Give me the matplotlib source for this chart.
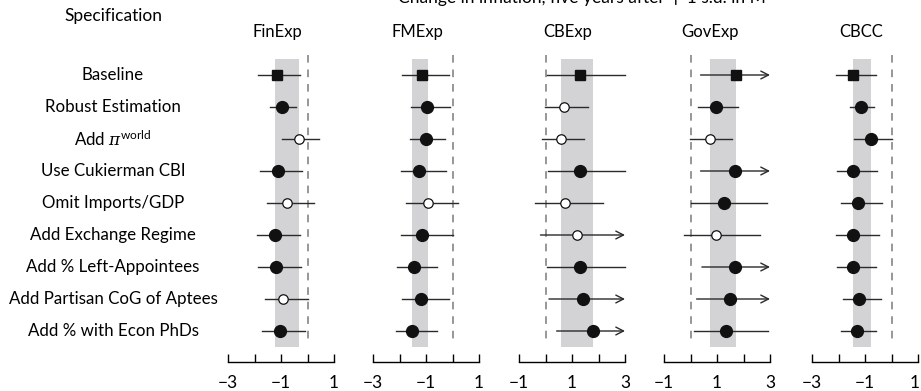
import numpy as np
import matplotlib
matplotlib.use("Agg")
import matplotlib.pyplot as plt
from matplotlib.transforms import ScaledTranslation

plt.rcParams["font.family"] = ["Lato", "DejaVu Sans"]
plt.rcParams["mathtext.fontset"] = "custom"
plt.rcParams["mathtext.rm"] = "Lato"
plt.rcParams["mathtext.it"] = "DejaVu Serif:italic"

# Specifications (rows, top to bottom)
specs = ["Baseline", "Robust Estimation", r"Add $\pi^{\mathrm{world}}$",
         "Use Cukierman CBI", "Omit Imports/GDP", "Add Exchange Regime",
         "Add % Left-Appointees", "Add Partisan CoG of Aptees",
         "Add % with Econ PhDs"]

panels = ["FinExp", "FMExp", "CBExp", "GovExp", "CBCC"]
panel_xlim = [(-3, 1), (-3, 1), (-1, 3), (-1, 3), (-3, 1)]
panel_labels = [[-3, -1, 1], [-3, -1, 1], [-1, 1, 3], [-1, 1, 3], [-3, -1, 1]]

INF = np.inf  # interval continues past the right end of the axis

finexp_est = [-1.16, -0.96, -0.33, -1.13, -0.77, -1.22, -1.17, -0.91, -1.02]
finexp_lo = [-1.85, -1.40, -0.97, -1.81, -1.52, -1.91, -1.85, -1.62, -1.72]
finexp_hi = [-0.28, -0.45, 0.43, -0.20, 0.23, -0.30, -0.26, 0.01, -0.11]
finexp_open = [0, 0, 1, 0, 1, 0, 0, 1, 0]

fmexp_est = [-1.16, -0.95, -1.01, -1.25, -0.93, -1.14, -1.46, -1.17, -1.51]
fmexp_lo = [-1.89, -1.58, -1.62, -1.96, -1.77, -1.93, -2.10, -1.91, -2.12]
fmexp_hi = [-0.12, -0.09, -0.30, -0.23, 0.20, 0.00, -0.57, -0.12, -0.60]
fmexp_open = [0, 0, 0, 0, 1, 0, 0, 0, 0]

cbexp_est = [1.31, 0.71, 0.58, 1.31, 0.74, 1.19, 1.31, 1.43, 1.78]
cbexp_lo = [0.06, -0.03, -0.15, 0.10, -0.38, -0.19, 0.06, 0.13, 0.42]
cbexp_hi = [2.99, 1.60, 1.45, 2.99, 2.18, INF, 2.99, INF, INF]
cbexp_open = [0, 1, 1, 0, 1, 1, 0, 0, 0]

govexp_est = [1.70, 0.97, 0.72, 1.69, 1.25, 0.97, 1.69, 1.50, 1.35]
govexp_lo = [0.38, 0.28, -0.01, 0.38, 0.03, -0.25, 0.43, 0.23, 0.15]
govexp_hi = [INF, 1.81, 1.56, INF, 2.88, 2.63, INF, INF, 2.92]
govexp_open = [0, 0, 1, 0, 0, 1, 0, 0, 0]

cbcc_est = [-1.45, -1.14, -0.76, -1.44, -1.25, -1.44, -1.44, -1.22, -1.30]
cbcc_lo = [-2.09, -1.56, -1.41, -2.06, -1.90, -2.09, -2.06, -1.83, -1.91]
cbcc_hi = [-0.57, -0.65, 0.02, -0.53, -0.34, -0.49, -0.58, -0.38, -0.57]
cbcc_open = [0, 0, 0, 0, 0, 0, 0, 0, 0]

est = [finexp_est, fmexp_est, cbexp_est, govexp_est, cbcc_est]
lo = [finexp_lo, fmexp_lo, cbexp_lo, govexp_lo, cbcc_lo]
hi = [finexp_hi, fmexp_hi, cbexp_hi, govexp_hi, cbcc_hi]
hollow = [finexp_open, fmexp_open, cbexp_open, govexp_open, cbcc_open]

# ---- layout (pixels) ----
W, H = 921, 391
fig = plt.figure(figsize=(W / 100, H / 100), dpi=100)

ax_left_px = [228, 373, 519, 664, 812]
ax_width_px = 106
ax_top_px, ax_bot_px = 47, 362
title_x_px = [277, 417, 568, 710, 861]
row_pitch_px = 32
first_row_px = 75

n = len(specs)
ax_h_units = (ax_bot_px - ax_top_px) / row_pitch_px
y_top = -(first_row_px - ax_top_px) / row_pitch_px
y_bot = y_top + ax_h_units
rows = np.arange(n)

band_col = "#d3d3d5"
line_col = "#2a2a2a"

for k, name in enumerate(panels):
    ax = fig.add_axes([ax_left_px[k] / W, (H - ax_bot_px) / H,
                       ax_width_px / W, (ax_bot_px - ax_top_px) / H])
    x0, x1 = panel_xlim[k]
    ax.set_xlim(x0, x1)
    ax.set_ylim(y_bot, y_top)

    e = np.array(est[k]); l = np.array(lo[k]); h = np.array(hi[k])
    # grey band: range spanned by the point estimates
    ax.fill_betweenx([-0.5, 8.5], e.min(), e.max(), color=band_col, lw=0, zorder=0)
    # reference line at zero
    ax.plot([0, 0], [-0.62, 8.45], color="#7a7a7a", lw=1.1,
            dashes=(5, 4.5), zorder=1, clip_on=False)

    for i in rows:
        if np.isinf(h[i]):
            ax.annotate("", xy=(x1, i), xytext=(l[i], i),
                        arrowprops=dict(arrowstyle="->,head_length=0.55,head_width=0.28",
                                        color=line_col, lw=1.0,
                                        shrinkA=0, shrinkB=0), zorder=2)
        else:
            ax.plot([l[i], h[i]], [i, i], color=line_col, lw=1.0, zorder=2,
                    clip_on=False)
        if i == 0:
            ax.plot(e[i], i, marker="s", ms=7, color="#111111", zorder=3,
                    clip_on=False)
        elif hollow[k][i]:
            ax.plot(e[i], i, marker="o", ms=6.8, mfc="white", mec="#111111",
                    mew=0.9, zorder=3, clip_on=False)
        else:
            ax.plot(e[i], i, marker="o", ms=8.5, color="#111111", zorder=3,
                    clip_on=False)

    for s in ["top", "left", "right"]:
        ax.spines[s].set_visible(False)
    ax.spines["bottom"].set_linewidth(1.0)
    ax.set_yticks([])
    ticks = np.arange(x0, x1 + 1)
    ax.set_xticks(ticks)
    labs = [("\u2212%d" % abs(t) if t < 0 else "%d" % t) if t in panel_labels[k] else ""
            for t in ticks]
    ax.set_xticklabels(labs, fontsize=12.5)
    ax.tick_params(axis="x", direction="in", length=6, width=1.0, pad=9)
    if k == len(panels) - 1:
        # keep the rightmost label inside the canvas
        last = ax.get_xticklabels()[-1]
        last.set_transform(last.get_transform()
                           + ScaledTranslation(-3 / 100, 0, fig.dpi_scale_trans))

    fig.text(title_x_px[k] / W, 1 - 32 / H, name, ha="center", va="center",
             fontsize=12)

# row labels
for i, s in enumerate(specs):
    fig.text(113 / W, 1 - (first_row_px + i * row_pitch_px) / H, s,
             ha="center", va="center", fontsize=12.2)

fig.text(113 / W, 1 - 16 / H, "Specification", ha="center", va="center",
         fontsize=12.5)
fig.text(582 / W, 1 - 3 / H,
         "Change in inflation, five years after \u2191 1 s.d. in M",
         ha="center", va="baseline", fontsize=12.5)

fig.savefig("out.png", dpi=100)
